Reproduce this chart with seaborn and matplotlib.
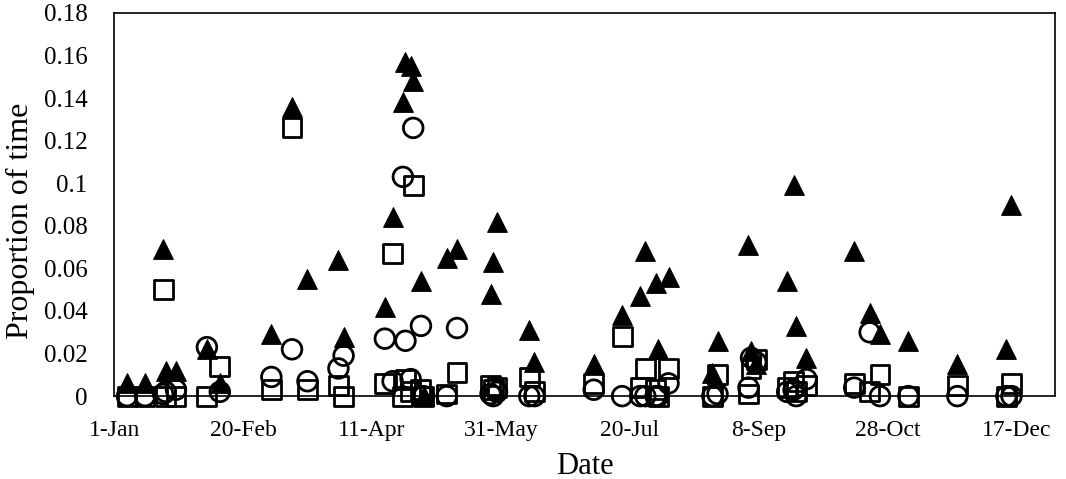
import numpy as np
import pandas as pd
import matplotlib
matplotlib.use("Agg")
import matplotlib.pyplot as plt
import seaborn as sns

# Sampling day (days since 1 January) and proportion of time for three groups
days = [5, 12, 19, 20, 24, 36, 41, 61, 69, 75, 87, 89, 105, 108, 112, 113, 115, 116,
        119, 120, 129, 133, 146, 147, 148.5, 161, 163, 186, 197, 204, 206, 210, 211, 215,
        232, 234, 246, 247, 249, 261, 263.5, 264.5, 268.5, 287, 293, 297, 308, 327, 346, 348]

triangles = [0.006, 0.006, 0.069, 0.012, 0.012, 0.022, 0.006, 0.029, 0.136, 0.055,
             0.064, 0.028, 0.042, 0.084, 0.138, 0.157, 0.155, 0.148, 0.054, 0.000,
             0.065, 0.069, 0.048, 0.063, 0.082, 0.031, 0.016, 0.015, 0.038, 0.047,
             0.068, 0.053, 0.022, 0.056, 0.011, 0.026, 0.071, 0.021, 0.015, 0.054,
             0.099, 0.033, 0.018, 0.068, 0.039, 0.029, 0.026, 0.015, 0.022, 0.090]

squares = [0.000, 0.000, 0.050, 0.000, 0.000, 0.000, 0.014, 0.003, 0.126, 0.003,
           0.005, 0.000, 0.006, 0.067, 0.000, 0.008, 0.002, 0.099, 0.003, 0.000,
           0.001, 0.011, 0.005, 0.003, 0.004, 0.009, 0.002, 0.006, 0.028, 0.004,
           0.013, 0.003, 0.000, 0.013, 0.000, 0.010, 0.001, 0.013, 0.017, 0.004,
           0.007, 0.002, 0.005, 0.006, 0.002, 0.010, 0.000, 0.005, 0.000, 0.006]

circles = [0.000, 0.000, 0.001, 0.002, 0.003, 0.023, 0.002, 0.009, 0.022, 0.007,
           0.013, 0.019, 0.027, 0.007, 0.103, 0.026, 0.008, 0.126, 0.033, 0.000,
           0.000, 0.032, 0.001, 0.000, 0.002, 0.000, 0.000, 0.003, 0.000, 0.000,
           0.000, 0.000, 0.000, 0.006, 0.000, 0.001, 0.004, 0.018, 0.016, 0.002,
           0.003, 0.000, 0.008, 0.004, 0.030, 0.000, 0.000, 0.000, 0.000, 0.000]

tick_days = [0, 50, 100, 150, 200, 250, 300, 350]
tick_labels = ["1-Jan", "20-Feb", "11-Apr", "31-May", "20-Jul", "8-Sep", "28-Oct", "17-Dec"]
y_ticks = [0, 0.02, 0.04, 0.06, 0.08, 0.1, 0.12, 0.14, 0.16, 0.18]

df = pd.DataFrame({"day": days, "tri": triangles, "sq": squares, "circ": circles})

sns.set_theme(style="white")
plt.rcParams["font.family"] = ["Liberation Serif", "DejaVu Serif"]

fig = plt.figure(figsize=(10.66, 4.79), dpi=100)
ax = fig.add_axes([0.107, 0.173, 0.883, 0.800])

sns.scatterplot(data=df, x="day", y="tri", marker="^", s=200, color="black",
                edgecolor="black", linewidth=0.8, ax=ax, clip_on=False, zorder=3)
sns.scatterplot(data=df, x="day", y="sq", marker="s", s=185, facecolor="none",
                edgecolor="black", linewidth=2.0, ax=ax, clip_on=False, zorder=4)
sns.scatterplot(data=df, x="day", y="circ", marker="o", s=200, facecolor="none",
                edgecolor="black", linewidth=2.0, ax=ax, clip_on=False, zorder=5)

ax.set_xlim(0, 365)
ax.set_ylim(0, 0.18)
ax.set_xticks(tick_days)
ax.set_xticklabels(tick_labels)
ax.set_yticks(y_ticks)
ax.set_yticklabels([f"{v:g}" for v in y_ticks])

ax.tick_params(axis="both", direction="in", length=6, width=1.1, colors="black")
ax.tick_params(axis="x", pad=17, labelsize=17)
ax.tick_params(axis="y", pad=19, labelsize=18)
for sp in ax.spines.values():
    sp.set_visible(True)
    sp.set_color("black")
    sp.set_linewidth(1.2)

ax.set_xlabel("Date", fontsize=22, color="black")
ax.set_ylabel("Proportion of time", fontsize=23, color="black")
ax.xaxis.set_label_coords(0.5, -0.145)
ax.yaxis.set_label_coords(-0.084, 0.457)

fig.savefig("out.png", dpi=100, facecolor="white")
